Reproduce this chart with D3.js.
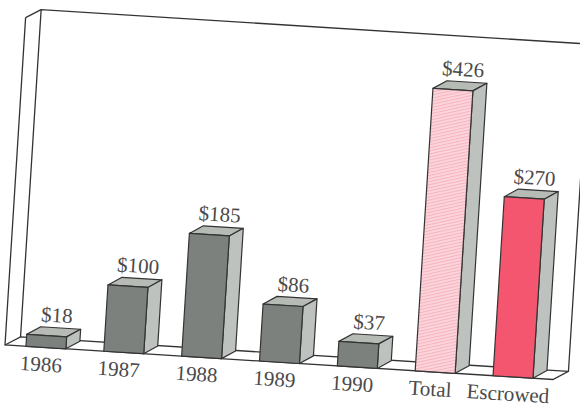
<!DOCTYPE html>
<html><head><meta charset="utf-8">
<script src="https://cdnjs.cloudflare.com/ajax/libs/d3/7.8.5/d3.min.js"></script>
<style>html,body{margin:0;padding:0;background:#fff}svg{display:block}
text{font-family:"Liberation Serif",serif;fill:#4a4a4a;font-size:21px;text-anchor:middle}</style>
</head><body><script>
const categories = ["1986","1987","1988","1989","1990","Total","Escrowed"];
const values = [18,100,185,86,37,426,270];
const valueLabels = ["$18","$100","$185","$86","$37","$426","$270"];

const W=580,H=407, tilt=3.6;
const depth={x:15,y:-9}, wallH=328, floorW=549;
const x=d3.scaleBand().domain(categories).range([21,21+6*78+40]).paddingInner(38/78).paddingOuter(0);
const y=d3.scaleLinear().domain([0,426]).range([0,-283]);
const front={ "Total":"url(#hatch)", "Escrowed":"#f5566f" };
const ink="#333";

const svg=d3.select("body").append("svg").attr("width",W).attr("height",H);
const pat=svg.append("defs").append("pattern").attr("id","hatch").attr("patternUnits","userSpaceOnUse")
  .attr("width",12).attr("height",3).attr("patternTransform","rotate(-16)");
pat.append("rect").attr("width",12).attr("height",3).attr("fill","#fcd6dc");
pat.append("rect").attr("width",12).attr("height",1.1).attr("fill","#f6b4c0");

const g=svg.append("g").attr("transform",`translate(5,345) rotate(${tilt})`);
const line=d3.line();
const wall=[
 [[0,-wallH],[0,0],[floorW,0],[floorW+depth.x,depth.y],[floorW+depth.x,depth.y-wallH]],
 [[0,0],[depth.x,depth.y],[floorW+depth.x,depth.y]],
 [[depth.x,depth.y],[depth.x,depth.y-wallH],[floorW+depth.x,depth.y-wallH]],
 [[0,-wallH],[depth.x,depth.y-wallH]]
];
g.selectAll("path.wall").data(wall).join("path").attr("class","wall").attr("d",line)
 .attr("fill","none").attr("stroke",ink).attr("stroke-width",1.3);

const dx=13.5,dy=-8.5;
const bars=g.selectAll("g.bar").data(categories.map((c,i)=>({c,v:values[i],l:valueLabels[i]}))).join("g").attr("class","bar");
const faces=[
 d=>{const a=x(d.c),b=a+x.bandwidth(),t=y(d.v);return [[a,t],[b,t],[b+dx,t+dy],[a+dx,t+dy]];},
 d=>{const b=x(d.c)+x.bandwidth(),t=y(d.v);return [[b,y(0)],[b,t],[b+dx,t+dy],[b+dx,y(0)+dy]];},
 d=>{const a=x(d.c),b=a+x.bandwidth(),t=y(d.v);return [[a,y(0)],[a,t],[b,t],[b,y(0)]];}
];
const fills=[()=>"#b6bbb6",()=>"#bdc2be",d=>front[d.c]||"#7d817d"];
faces.forEach((f,i)=>bars.append("path").attr("d",d=>line(f(d))+"Z").attr("fill",fills[i])
  .attr("stroke",ink).attr("stroke-width",1.2).attr("stroke-linejoin","round"));
bars.append("text").attr("x",d=>x(d.c)+x.bandwidth()/2+9).attr("y",d=>y(d.v)-14).text(d=>d.l);
g.selectAll("text.cat").data(categories).join("text").attr("class","cat")
 .attr("x",d=>x(d)+x.bandwidth()/2-4).attr("y",24).text(d=>d);
</script></body></html>
